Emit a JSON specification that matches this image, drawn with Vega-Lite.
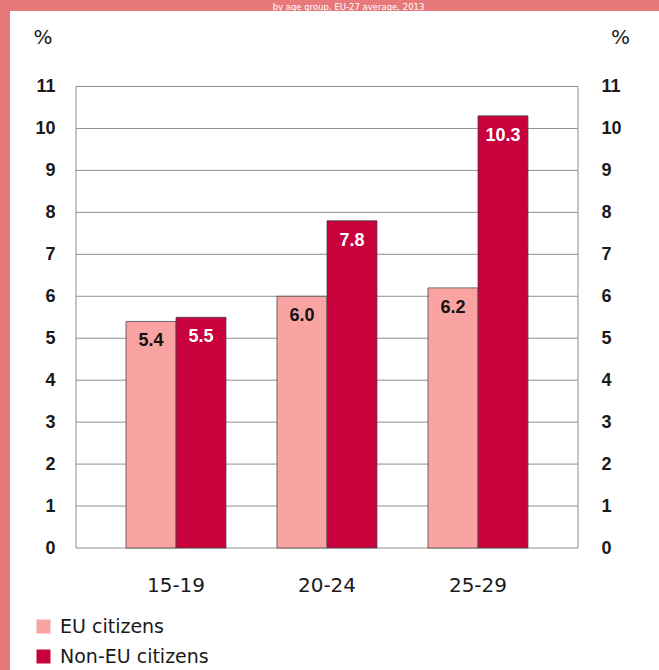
{
  "$schema": "https://vega.github.io/schema/vega-lite/v6.json",
  "width": 649,
  "height": 659,
  "autosize": {"type": "none"},
  "padding": {"left": 10, "top": 11, "right": 0, "bottom": 0},
  "background": "#e8797a",
  "view": {"fill": "white", "stroke": null},
  "title": {
    "text": "by age group, EU-27 average, 2013",
    "color": "white",
    "font": "DejaVu Sans",
    "fontSize": 8.5,
    "fontWeight": "normal",
    "anchor": "middle",
    "frame": "group",
    "baseline": "alphabetic",
    "offset": 2.5,
    "dy": 10,
    "dx": 14
  },
  "datasets": {
    "rates": [
      {"age": "15-19", "citizenship": "EU citizens", "value": 5.4},
      {"age": "15-19", "citizenship": "Non-EU citizens", "value": 5.5},
      {"age": "20-24", "citizenship": "EU citizens", "value": 6.0},
      {"age": "20-24", "citizenship": "Non-EU citizens", "value": 7.8},
      {"age": "25-29", "citizenship": "EU citizens", "value": 6.2},
      {"age": "25-29", "citizenship": "Non-EU citizens", "value": 10.3}
    ],
    "grid": [
      {"tick": 1}, {"tick": 2}, {"tick": 3}, {"tick": 4}, {"tick": 5},
      {"tick": 6}, {"tick": 7}, {"tick": 8}, {"tick": 9}, {"tick": 10}
    ],
    "frame": [{"bottom": 0, "top": 11}]
  },
  "layer": [
    {
      "data": {"name": "grid"},
      "mark": {"type": "rule", "color": "#8f8f8f", "strokeWidth": 1},
      "encoding": {
        "x": {"datum": 0, "type": "quantitative", "scale": {"domain": [-0.1315, 1.1614], "nice": false, "zero": false}, "axis": null},
        "x2": {"datum": 1},
        "y": {
          "field": "tick", "type": "quantitative",
          "scale": {"domain": [-2.9079, 12.7996], "nice": false, "zero": false},
          "axis": {
            "orient": "right", "offset": -81, "values": [0,1,2,3,4,5,6,7,8,9,10,11],
            "grid": false, "domain": false, "ticks": false, "tickSize": 0, "labelPadding": 23,
            "labelAlign": "left", "labelBaseline": "middle",
            "labelFont": "Liberation Sans", "labelFontWeight": "bold", "labelFontSize": 18, "labelColor": "#1a1a1a",
            "title": "%", "titleAngle": 0, "titleX": 42, "titleY": 26, "titleAlign": "center", "titleBaseline": "middle",
            "titleFont": "DejaVu Sans", "titleFontSize": 20, "titleFontWeight": "normal", "titleColor": "#1a1a1a"
          }
        }
      }
    },
    {
      "data": {"name": "frame"},
      "mark": {"type": "rect", "fillOpacity": 0, "stroke": "#8f8f8f", "strokeWidth": 1},
      "encoding": {
        "x": {"datum": 0, "type": "quantitative", "scale": {"domain": [-0.1315, 1.1614], "nice": false, "zero": false}, "axis": null},
        "x2": {"datum": 1},
        "y": {"field": "bottom", "type": "quantitative", "scale": {"domain": [-2.9079, 12.7996], "nice": false, "zero": false}, "axis": null},
        "y2": {"field": "top"}
      }
    },
    {
      "data": {"name": "rates"},
      "layer": [
        {
          "mark": {"type": "bar", "stroke": "#4d4d4d", "strokeWidth": 0.8},
          "encoding": {
            "x": {
              "field": "age", "type": "nominal", "sort": ["15-19", "20-24", "25-29"],
              "scale": {"paddingInner": 0.3377, "paddingOuter": 0.818, "align": 0.4696},
              "axis": {
                "orient": "bottom", "offset": -122, "title": null, "domain": false, "ticks": false, "tickSize": 0,
                "labelPadding": 27, "labelAngle": 0, "labelFont": "DejaVu Sans", "labelFontSize": 20, "labelColor": "#1a1a1a"
              }
            },
            "xOffset": {"field": "citizenship", "type": "nominal", "sort": ["EU citizens", "Non-EU citizens"]},
            "y": {
              "field": "value", "type": "quantitative", "stack": null,
              "scale": {"domain": [-2.9079, 12.7996], "nice": false, "zero": false},
              "axis": {
                "orient": "left", "offset": -66, "values": [0,1,2,3,4,5,6,7,8,9,10,11],
                "grid": false, "domain": false, "ticks": false, "tickSize": 0, "labelPadding": 21,
                "labelAlign": "right", "labelBaseline": "middle",
                "labelFont": "Liberation Sans", "labelFontWeight": "bold", "labelFontSize": 18, "labelColor": "#1a1a1a",
                "title": "%", "titleAngle": 0, "titleX": -33.5, "titleY": 26, "titleAlign": "center", "titleBaseline": "middle",
                "titleFont": "DejaVu Sans", "titleFontSize": 20, "titleFontWeight": "normal", "titleColor": "#1a1a1a"
              }
            },
            "y2": {"datum": 0},
            "color": {
              "field": "citizenship", "type": "nominal",
              "scale": {"domain": ["EU citizens", "Non-EU citizens"], "range": ["#f9a3a2", "#c8003b"]},
              "legend": {
                "title": null, "orient": "none", "legendX": 24, "legendY": 606,
                "symbolType": "square", "symbolSize": 196, "symbolStrokeWidth": 0,
                "labelFont": "DejaVu Sans", "labelFontSize": 19, "labelColor": "#1a1a1a",
                "labelOffset": 7, "rowPadding": 10, "labelLimit": 300,
                "encode": {
                  "symbols": {
                    "update": {
                      "fill": {"signal": "datum.value === 'EU citizens' ? '#e8827d' : '#d7194b'"},
                      "opacity": {"value": 1}
                    }
                  }
                }
              }
            }
          }
        },
        {
          "mark": {"type": "text", "baseline": "middle", "dy": 20, "font": "Liberation Sans", "fontWeight": "bold", "fontSize": 18},
          "encoding": {
            "x": {"field": "age", "type": "nominal", "sort": ["15-19", "20-24", "25-29"]},
            "xOffset": {"field": "citizenship", "type": "nominal", "sort": ["EU citizens", "Non-EU citizens"]},
            "y": {"field": "value", "type": "quantitative"},
            "text": {"field": "value", "type": "quantitative", "format": ".1f"},
            "color": {"condition": {"test": "datum.citizenship === 'EU citizens'", "value": "#111111"}, "value": "#ffffff"}
          }
        }
      ]
    }
  ],
  "resolve": {"scale": {"x": "independent"}, "axis": {"x": "independent", "y": "independent"}}
}
